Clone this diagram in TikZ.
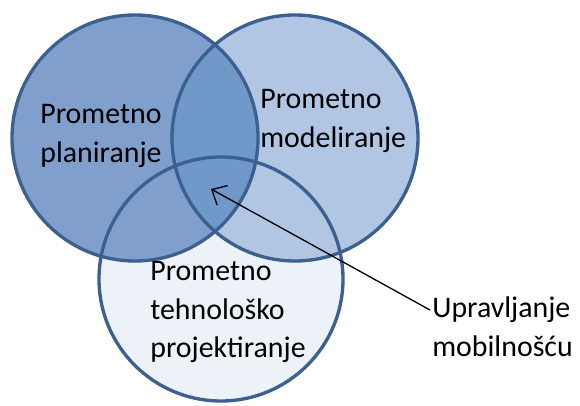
\documentclass[tikz,border=0pt]{standalone}
\usepackage{fontspec}
\setmainfont{Carlito}
\usetikzlibrary{arrows.meta}
\definecolor{ringline}{HTML}{3C6090}
\definecolor{planfill}{HTML}{809FCC}
\definecolor{modfill}{HTML}{B0C6E3}
\definecolor{techfill}{HTML}{EDF2F9}
\definecolor{bothfill}{HTML}{7098C8}

\begin{document}
\begin{tikzpicture}[
    ring/.style={draw=ringline, line width=1.9pt},
    lbl/.style={anchor=west, align=left, inner sep=0pt, font=\fontsize{17}{22}\selectfont}
  ]
  \useasboundingbox (0,0) rectangle (11.6,8.1);

  % Circle centres
  \coordinate (cplan) at (2.70,5.34);
  \coordinate (cmod) at (5.90,5.34);
  \coordinate (ctech) at (4.42,2.52);

  % Fills
  \fill[techfill] (ctech) circle (2.44);
  \fill[modfill] (cmod) circle (2.46);
  \fill[planfill] (cplan) circle (2.46);
  \begin{scope}
    \clip (cplan) circle (2.46);
    \fill[bothfill] (cmod) circle (2.46);
  \end{scope}

  % Outlines
  \draw[ring] (cplan) circle (2.46);
  \draw[ring] (cmod) circle (2.46);
  \draw[ring] (ctech) circle (2.44);

  % Labels
  \node[lbl] (plan) at (0.80,5.38) {Prometno\\planiranje};
  \node[lbl] (mod) at (5.20,5.68) {Prometno\\modeliranje};
  \node[lbl] (tech) at (3.00,1.86) {Prometno\\tehnološko\\projektiranje};
  \node[lbl] (mob) at (8.64,1.56) {Upravljanje\\mobilnošću};

  % Arrow
  \coordinate (tip) at (4.22,4.32);
  \draw[-{Straight Barb[length=2.4mm,width=4.4mm]}, line width=0.75pt] ([xshift=-0.04cm,yshift=0.34cm]mob.west) -- (tip);
\end{tikzpicture}
\end{document}
